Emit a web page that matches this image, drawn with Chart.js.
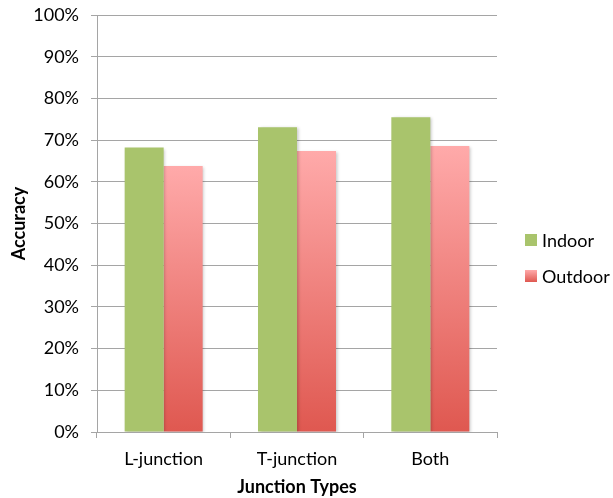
<!DOCTYPE html>
<html>
<head>
<meta charset="utf-8">
<script src="https://cdn.jsdelivr.net/npm/chart.js@4.4.1/dist/chart.umd.min.js"></script>
<style>
  html, body { margin: 0; padding: 0; background: #fff; }
  #wrap { width: 613px; height: 498px; }
</style>
</head>
<body>
<div id="wrap"><canvas id="c" width="613" height="498"></canvas></div>
<script>
// Accuracy by junction type, indoor vs outdoor scenes
const categories = ['L-junction', 'T-junction', 'Both'];
const indoor = [68.2, 73.1, 75.5];
const outdoor = [63.8, 67.4, 68.6];
const seriesNames = ['Indoor', 'Outdoor'];

const GREEN = '#A9C46C';
const PINK_TOP = '#FFAAAA';
const RED_BOTTOM = '#DF5850';
const GRID = '#A5A5A5';
const FONT = 'Lato';

function redGradient(ctx, top, bottom) {
  const g = ctx.createLinearGradient(0, top, 0, bottom);
  g.addColorStop(0, PINK_TOP);
  g.addColorStop(1, RED_BOTTOM);
  return g;
}

function outdoorFill(context) {
  const chart = context.chart;
  const area = chart.chartArea;
  if (!area) return PINK_TOP;
  const y = chart.scales.y;
  const v = context.raw;
  const top = y.getPixelForValue(typeof v === 'number' ? v : 0);
  return redGradient(chart.ctx, top, y.getPixelForValue(0));
}

// soft drop shadow under the bars
const barShadow = {
  id: 'barShadow',
  beforeDatasetsDraw(chart) {
    const ctx = chart.ctx;
    ctx.save();
    ctx.shadowColor = 'rgba(0,0,0,0.22)';
    ctx.shadowBlur = 3;
    ctx.shadowOffsetX = 1.5;
    ctx.shadowOffsetY = 1;
  },
  afterDatasetsDraw(chart) {
    chart.ctx.restore();
  }
};

// legend to the right of the plot
const sideLegend = {
  id: 'sideLegend',
  afterDraw(chart) {
    const ctx = chart.ctx;
    const area = chart.chartArea;
    const x = area.right + 28;
    const rows = [area.top + 225, area.top + 261];
    ctx.save();
    ctx.font = '18px ' + FONT;
    ctx.textBaseline = 'middle';
    ctx.fillStyle = '#000';
    chart.data.datasets.forEach((ds, i) => {
      const cy = rows[i];
      ctx.fillStyle = i === 0 ? GREEN : redGradient(ctx, cy - 6, cy + 6);
      ctx.fillRect(x, cy - 6, 12, 12);
      ctx.fillStyle = '#000';
      ctx.fillText(ds.label, x + 17, cy + 1);
    });
    ctx.restore();
  }
};

new Chart(document.getElementById('c'), {
  type: 'bar',
  data: {
    labels: categories,
    datasets: [
      { label: seriesNames[0], data: indoor, backgroundColor: GREEN },
      { label: seriesNames[1], data: outdoor, backgroundColor: outdoorFill }
    ]
  },
  options: {
    responsive: false,
    animation: false,
    devicePixelRatio: 1,
    layout: { padding: { left: 8, right: 116, top: 15, bottom: 0 } },
    datasets: { bar: { categoryPercentage: 0.585, barPercentage: 1.0 } },
    plugins: {
      legend: { display: false },
      tooltip: { enabled: false }
    },
    scales: {
      x: {
        grid: { display: true, drawOnChartArea: false, offset: true, color: GRID, tickLength: 6 },
        border: { color: GRID },
        ticks: { color: '#000', font: { family: FONT, size: 18 }, padding: 10 },
        title: { display: true, text: 'Junction Types', color: '#000',
                 font: { family: FONT, size: 18, weight: 'bold' }, padding: 0 },
        afterFit(scale) {
          scale.height = 66;
          scale.paddingLeft = 0;
          scale.paddingRight = 0;
        }
      },
      y: {
        min: 0, max: 100,
        ticks: { stepSize: 10, color: '#000', font: { family: FONT, size: 18 }, padding: 12,
                 callback: v => v + '%' },
        grid: { color: GRID, tickLength: 6 },
        border: { color: GRID },
        title: { display: true, text: 'Accuracy', color: '#000',
                 font: { family: FONT, size: 18, weight: 'bold' }, padding: 0 },
        afterFit(scale) {
          scale.width = 89;
          scale.paddingTop = 0;
          scale.paddingBottom = 0;
        }
      }
    }
  },
  plugins: [barShadow, sideLegend]
});
</script>
</body>
</html>
